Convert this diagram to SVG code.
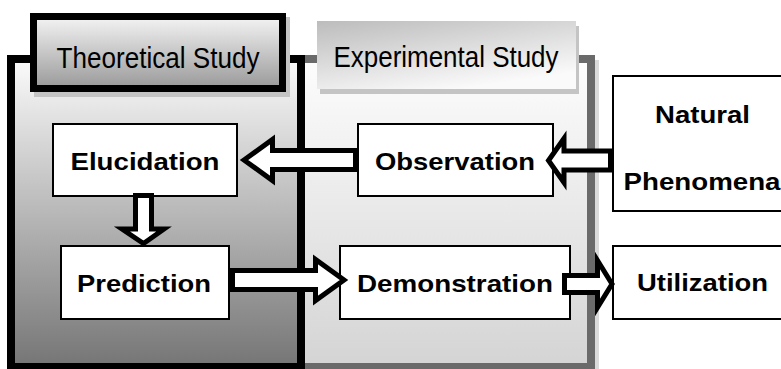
<svg xmlns="http://www.w3.org/2000/svg" width="781" height="369" viewBox="0 0 781 369">
<defs>
<linearGradient id="gTheoPanel" x1="0" y1="0" x2="0" y2="1">
<stop offset="0" stop-color="#fbfbfb"/>
<stop offset="1" stop-color="#757575"/>
</linearGradient>
<linearGradient id="gTheoTab" x1="0" y1="0" x2="0" y2="1">
<stop offset="0" stop-color="#f4f4f4"/>
<stop offset="1" stop-color="#999999"/>
</linearGradient>
<linearGradient id="gExpPanel" x1="0" y1="0" x2="0" y2="1">
<stop offset="0" stop-color="#fdfdfd"/>
<stop offset="1" stop-color="#d4d4d4"/>
</linearGradient>
<linearGradient id="gExpTab" x1="0" y1="0" x2="0.55" y2="1">
<stop offset="0" stop-color="#bcbcbc"/>
<stop offset="1" stop-color="#fafafa"/>
</linearGradient>
</defs>
<style>
.box{fill:#ffffff;stroke:#000000;stroke-width:2}
.lbl{font-family:"Liberation Sans",Arial,sans-serif;font-weight:bold;font-size:24px;fill:#000000;text-anchor:middle}
.tab{font-family:"Liberation Sans",Arial,sans-serif;font-size:30px;fill:#000000;text-anchor:middle}
.arr{fill:#ffffff;stroke:#000000;stroke-width:5;stroke-linejoin:miter;stroke-miterlimit:10}
.shadow{fill:#c4c4c4}
</style>

<g id="experimental-study">
<rect x="595" y="60" width="4" height="309" fill="#dadada"/>
<rect x="301" y="59" width="290" height="308" fill="url(#gExpPanel)" stroke="#6a6a6a" stroke-width="8"/>
<rect class="shadow" x="320" y="26" width="259" height="68"/>
<rect x="317" y="21" width="259" height="68" fill="url(#gExpTab)"/>
<text class="tab" x="446" y="67" textLength="225" lengthAdjust="spacingAndGlyphs">Experimental Study</text>
</g>

<g id="theoretical-study">
<rect x="11" y="59" width="290" height="308" fill="url(#gTheoPanel)" stroke="#000000" stroke-width="8"/>
<rect class="shadow" x="34" y="17" width="256" height="80"/>
<rect x="33.5" y="16.5" width="249" height="72" fill="url(#gTheoTab)" stroke="#000000" stroke-width="7"/>
<text class="tab" x="158" y="68" textLength="203" lengthAdjust="spacingAndGlyphs">Theoretical Study</text>
</g>

<g id="elucidation">
<rect class="box" x="53" y="124" width="184" height="72"/>
<text class="lbl" x="145" y="170" textLength="149" lengthAdjust="spacingAndGlyphs">Elucidation</text>
</g>
<g id="prediction">
<rect class="box" x="61" y="246" width="168" height="73"/>
<text class="lbl" x="144" y="292" textLength="134" lengthAdjust="spacingAndGlyphs">Prediction</text>
</g>
<g id="observation">
<rect class="box" x="358" y="124" width="195" height="72"/>
<text class="lbl" x="455" y="170" textLength="160" lengthAdjust="spacingAndGlyphs">Observation</text>
</g>
<g id="demonstration">
<rect class="box" x="340" y="246" width="230" height="73"/>
<text class="lbl" x="455" y="292" textLength="196" lengthAdjust="spacingAndGlyphs">Demonstration</text>
</g>
<g id="natural-phenomena">
<rect class="box" x="613" y="76" width="200" height="135"/>
<text class="lbl" x="702.5" y="123" textLength="95" lengthAdjust="spacingAndGlyphs">Natural</text>
<text class="lbl" x="702" y="190" textLength="157" lengthAdjust="spacingAndGlyphs">Phenomena</text>
</g>
<g id="utilization">
<rect class="box" x="613" y="246" width="200" height="73"/>
<text class="lbl" x="702.5" y="291" textLength="131" lengthAdjust="spacingAndGlyphs">Utilization</text>
</g>

<g id="connectors">
<path class="arr" d="M244,160 L272.5,139.5 L272.5,150.5 L355.5,150.5 L355.5,169.5 L272.5,169.5 L272.5,180.5 Z"/>
<path class="arr" d="M548.5,160.5 L564,138.5 L564,151 L610.5,151 L610.5,170 L564,170 L564,182.5 Z"/>
<path class="arr" d="M135.5,195.5 L151.5,195.5 L151.5,229 L164,229 L143.5,243.5 L122,229 L135.5,229 Z"/>
<path class="arr" d="M232.5,270.5 L315.5,270.5 L315.5,259.5 L344,280 L315.5,300.5 L315.5,289.5 L232.5,289.5 Z"/>
<path class="arr" d="M564.5,275.5 L597.5,275.5 L597.5,260.5 L612,284 L597.5,307.5 L597.5,292.5 L564.5,292.5 Z"/>
</g>
</svg>
